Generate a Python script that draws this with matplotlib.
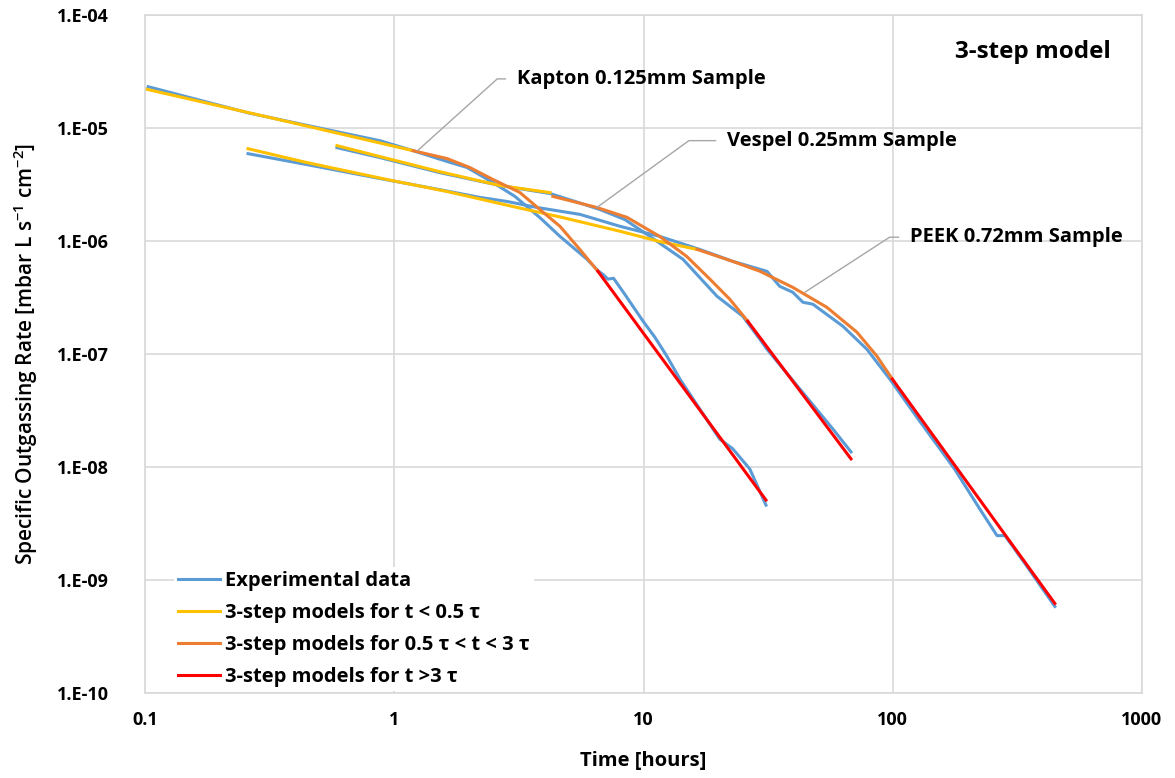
import numpy as np
import matplotlib
matplotlib.use("Agg")
import matplotlib.pyplot as plt
from matplotlib.ticker import FixedLocator, NullLocator

# fonts
plt.rcParams['font.family'] = ['Open Sans', 'DejaVu Sans']
plt.rcParams['font.weight'] = 'bold'
plt.rcParams['axes.labelweight'] = 'bold'
plt.rcParams['mathtext.fontset'] = 'custom'
plt.rcParams['mathtext.rm'] = 'Open Sans:semibold'
plt.rcParams['mathtext.default'] = 'regular'

# colours (Excel palette)
BLUE = '#5B9BD5'
YELLOW = '#FFC000'
ORANGE = '#ED7D31'
RED = '#FF0000'
GRID = '#D9D9D9'

# ---- Kapton 0.125mm ----
kap_exp_t = [0.103, 0.26, 0.47, 0.88, 1.19, 1.63, 1.96, 2.49, 3.05, 3.84, 4.62, 5.93, 6.6, 6.87, 7.2, 7.58,
             8.41, 9.96, 11.1, 12.4, 14.0, 16.8, 20.2, 22.8, 26.7, 31.0]
kap_exp_y = [2.32e-5, 1.36e-5, 1.03e-5, 7.7e-6, 6.3e-6, 5.05e-6, 4.47e-6, 3.29e-6, 2.48e-6, 1.61e-6, 1.10e-6,
             6.9e-7, 5.4e-7, 5.07e-7, 4.6e-7, 4.68e-7, 3.38e-7, 1.95e-7, 1.41e-7, 9.6e-8, 6.0e-8, 3.27e-8,
             1.77e-8, 1.45e-8, 9.6e-9, 4.6e-9]
kap_early_t = [0.1, 0.4, 1.19]
kap_early_y = [2.22e-5, 1.10e-5, 6.3e-6]
kap_mid_t = [1.19, 1.63, 2.01, 2.49, 3.19, 3.84, 4.62, 5.56, 6.56]
kap_mid_y = [6.3e-6, 5.36e-6, 4.47e-6, 3.50e-6, 2.69e-6, 1.90e-6, 1.35e-6, 8.4e-7, 5.4e-7]
kap_late_t = [6.56, 31.0]
kap_late_y = [5.4e-7, 5.1e-9]

# ---- Vespel 0.25mm ----
ves_exp_t = [0.589, 0.877, 1.52, 2.65, 4.22, 5.31, 6.68, 8.41, 10.6, 14.4, 19.7, 25.0, 29.3, 31.3, 42.4,
             57.5, 68.0]
ves_exp_y = [6.70e-6, 5.47e-6, 4.03e-6, 3.10e-6, 2.63e-6, 2.24e-6, 1.90e-6, 1.55e-6, 1.10e-6, 6.89e-7,
             3.25e-7, 2.16e-7, 1.35e-7, 1.10e-7, 4.90e-8, 2.17e-8, 1.36e-8]
ves_early_t = [0.589, 0.877, 1.52, 2.65, 4.22]
ves_early_y = [6.98e-6, 5.58e-6, 4.11e-6, 3.10e-6, 2.68e-6]
ves_mid_t = [4.33, 6.50, 8.58, 11.6, 14.9, 18.5, 22.2, 26.2]
ves_mid_y = [2.48e-6, 1.98e-6, 1.62e-6, 1.10e-6, 7.31e-7, 4.58e-7, 3.05e-7, 1.95e-7]
ves_late_t = [26.2, 68.0]
ves_late_y = [1.95e-7, 1.18e-8]

# ---- PEEK 0.72mm ----
peek_exp_t = [0.259, 0.447, 0.877, 1.52, 2.21, 2.83, 3.74, 5.56, 8.04, 11.6, 16.8, 22.8, 31.3, 35.2, 39.7,
              43.6, 47.8, 63.1, 78.8, 97.3, 128, 177, 223, 262, 282, 339, 447]
peek_exp_y = [5.93e-6, 4.74e-6, 3.57e-6, 2.85e-6, 2.43e-6, 2.24e-6, 1.98e-6, 1.72e-6, 1.35e-6, 1.10e-6,
              8.43e-7, 6.61e-7, 5.39e-7, 3.97e-7, 3.52e-7, 2.87e-7, 2.76e-7, 1.76e-7, 1.10e-7, 6.0e-8,
              2.56e-8, 9.6e-9, 4.28e-9, 2.47e-9, 2.47e-9, 1.40e-9, 5.83e-10]
peek_early_t = [0.259, 0.447, 0.935, 1.63, 2.99, 4.75, 8.04, 11.6, 16.4]
peek_early_y = [6.56e-6, 4.94e-6, 3.50e-6, 2.74e-6, 2.02e-6, 1.61e-6, 1.22e-6, 9.9e-7, 8.43e-7]
peek_mid_t = [16.4, 22.8, 29.3, 39.7, 54.4, 71.8, 86.3, 99.6]
peek_mid_y = [8.43e-7, 6.6e-7, 5.4e-7, 3.89e-7, 2.59e-7, 1.56e-7, 9.6e-8, 6.0e-8]
peek_late_t = [99.6, 447]
peek_late_y = [6.0e-8, 6.2e-10]

y_ticks = [1e-10, 1e-9, 1e-8, 1e-7, 1e-6, 1e-5, 1e-4]
y_tick_labels = ['1.E-10', '1.E-09', '1.E-08', '1.E-07', '1.E-06', '1.E-05', '1.E-04']
x_ticks = [0.1, 1, 10, 100, 1000]
x_tick_labels = ['0.1', '1', '10', '100', '1000']

fig = plt.figure(figsize=(11.75, 7.78), dpi=100)
ax = fig.add_axes([145 / 1175, 1 - 693 / 778, (1142 - 145) / 1175, (693 - 15) / 778])
ax.set_xscale('log')
ax.set_yscale('log')
ax.set_xlim(0.1, 1000)
ax.set_ylim(1e-10, 1e-4)

lw = 2.2
# experimental data first (drawn below the models)
ax.plot(kap_exp_t, kap_exp_y, color=BLUE, lw=lw, label='Experimental data')
ax.plot(ves_exp_t, ves_exp_y, color=BLUE, lw=lw)
ax.plot(peek_exp_t, peek_exp_y, color=BLUE, lw=lw)

ax.plot(kap_early_t, kap_early_y, color=YELLOW, lw=lw, label='3-step models for t < 0.5 τ')
ax.plot(ves_early_t, ves_early_y, color=YELLOW, lw=lw)
ax.plot(peek_early_t, peek_early_y, color=YELLOW, lw=lw)

ax.plot(kap_mid_t, kap_mid_y, color=ORANGE, lw=lw, label='3-step models for 0.5 τ < t < 3 τ')
ax.plot(ves_mid_t, ves_mid_y, color=ORANGE, lw=lw)
ax.plot(peek_mid_t, peek_mid_y, color=ORANGE, lw=lw)

ax.plot(kap_late_t, kap_late_y, color=RED, lw=lw, label='3-step models for t >3 τ')
ax.plot(ves_late_t, ves_late_y, color=RED, lw=lw)
ax.plot(peek_late_t, peek_late_y, color=RED, lw=lw)

# axes styling
ax.xaxis.set_major_locator(FixedLocator(x_ticks))
ax.xaxis.set_minor_locator(NullLocator())
ax.yaxis.set_major_locator(FixedLocator(y_ticks))
ax.yaxis.set_minor_locator(NullLocator())
ax.set_xticklabels(x_tick_labels)
ax.set_yticklabels(y_tick_labels)
ax.tick_params(axis='both', length=0, labelsize=13)
ax.tick_params(axis='y', pad=26)
ax.tick_params(axis='x', pad=13)
ax.grid(True, color=GRID, lw=1.2)
ax.set_axisbelow(True)
for s in ax.spines.values():
    s.set_color(GRID)
    s.set_linewidth(1.2)

ax.set_xlabel('Time [hours]', fontsize=14.5, labelpad=16)
ax.set_ylabel('Specific Outgassing Rate [mbar L s$^{-1}$ cm$^{-2}$]', fontsize=15, labelpad=12,
              fontweight='semibold')

# sample labels with leader lines
leader = dict(arrowstyle='-', color='#A6A6A6', lw=1, relpos=(0, 0.5), shrinkA=6, shrinkB=0)
ax.annotate('Kapton 0.125mm Sample', xy=(1.24, 6.3e-6), xytext=(3.10, 2.72e-5), fontsize=14.5,
            va='center', ha='left',
            arrowprops=dict(leader, connectionstyle='angle,angleA=0,angleB=42,rad=0'))
ax.annotate('Vespel 0.25mm Sample', xy=(6.5, 1.98e-6), xytext=(21.6, 7.73e-6), fontsize=14.5,
            va='center', ha='left',
            arrowprops=dict(leader, connectionstyle='angle,angleA=0,angleB=36,rad=0'))
ax.annotate('PEEK 0.72mm Sample', xy=(44.4, 3.52e-7), xytext=(117, 1.08e-6), fontsize=14.5,
            va='center', ha='left',
            arrowprops=dict(leader, connectionstyle='angle,angleA=0,angleB=33,rad=0'))

ax.text(0.891, 0.945, '3-step model', transform=ax.transAxes, fontsize=17.5, ha='center', va='center')

leg = ax.legend(loc='lower left', bbox_to_anchor=(0.027, 0.0), fontsize=14.5, frameon=True,
                fancybox=False, handlelength=2.1, handletextpad=0.25, labelspacing=0.6,
                borderpad=0.2, borderaxespad=0.1)
leg.get_frame().set_facecolor('white')
leg.get_frame().set_edgecolor('none')
leg.get_frame().set_alpha(1)

fig.savefig('out.png', dpi=100)
